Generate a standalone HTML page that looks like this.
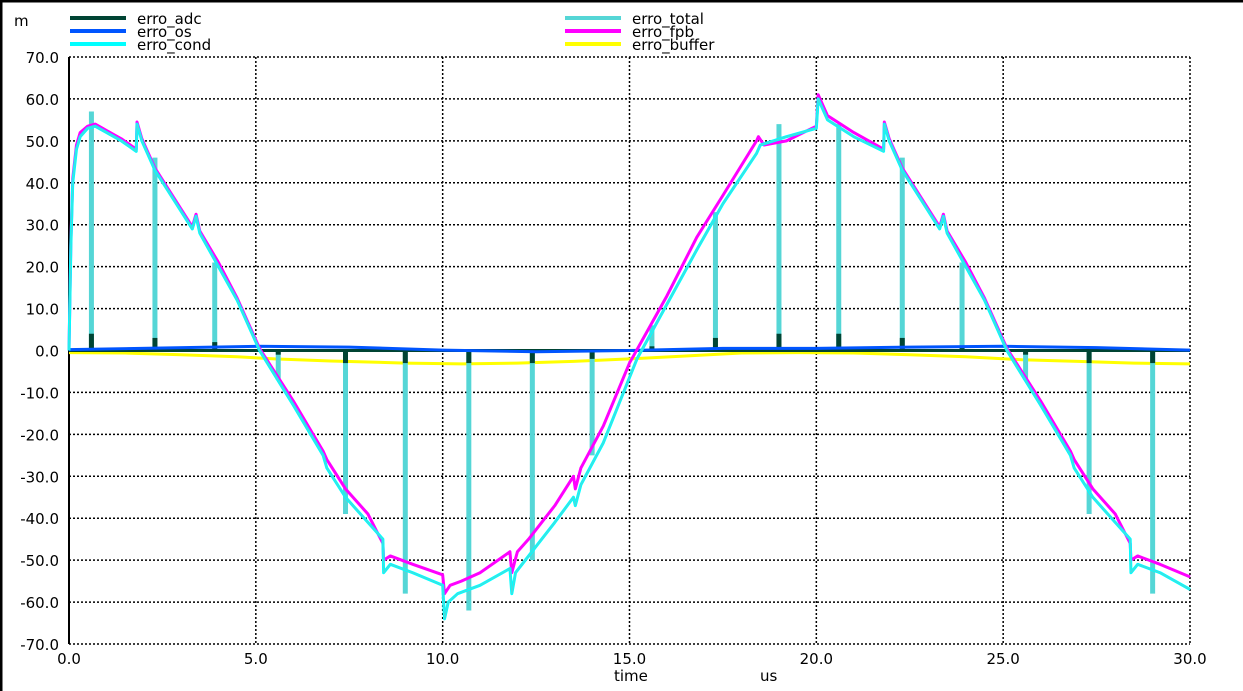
<!DOCTYPE html>
<html><head><meta charset="utf-8"><style>
html,body{margin:0;padding:0;background:#fff;}
svg{display:block;font-family:"DejaVu Sans","Liberation Sans",sans-serif;}
</style></head><body>
<svg id="chart" width="1243" height="691"></svg>
<script>
// ---- data ----
const yTicks = [70,60,50,40,30,20,10,0,-10,-20,-30,-40,-50,-60,-70];
const xTicks = [0,5,10,15,20,25,30];
const condT = [0,0.05,0.1,0.2,0.3,0.5,0.7,1.0,1.4,1.8,1.82,1.95,2.3,2.8,3.3,3.4,3.5,4.0,4.5,5.1,6.0,6.8,6.9,7.4,8.0,8.4,8.42,8.6,9.2,10.0,10.05,10.15,10.4,11.0,11.8,11.85,11.95,12.3,13.0,13.5,13.55,13.7,14.3,15.2,16.0,16.8,17.5,18.4,18.5,19.2,20.0,20.05,20.3,21.0,21.8,21.82,21.95,22.3,22.8,23.3,23.4,23.5,24.0,24.5,25.1,26.0,26.8,26.9,27.4,28.0,28.4,28.42,28.6,29.2,30.0];
const condV = [0,25,40,48,51,53,53.5,52,50,47.5,54,50,43,36,29,32,28,20,12,0,-13,-25,-28,-35,-41,-45,-53,-51,-53,-56,-64,-60,-58,-56,-52,-58,-53,-49,-41,-35,-37,-32,-22,-2,11,24,35,47,49,51,53,60,55,51,47.5,54,50,43,36,29,32,28,20,12,0,-13,-25,-28,-35,-41,-45,-53,-51,-53,-57];
const fpbT = [0,0.05,0.1,0.2,0.3,0.5,0.7,1.0,1.4,1.8,1.82,1.95,2.3,2.8,3.3,3.4,3.5,4.0,4.5,5.1,6.0,6.8,6.9,7.4,8.0,8.4,8.42,8.6,9.2,10.0,10.05,10.2,10.5,11.0,11.8,11.85,12.0,12.3,13.0,13.5,13.55,13.7,14.3,15.0,16.0,16.8,17.5,18.4,18.45,18.6,19.2,20.0,20.05,20.3,21.0,21.8,21.82,21.95,22.3,22.8,23.3,23.4,23.5,24.0,24.5,25.1,26.0,26.8,26.9,27.4,28.0,28.4,28.42,28.6,29.2,30.0];
const fpbV = [0,26,41,49,52,53.5,54,52.5,50.5,48,54.5,50.5,43.5,36.5,29.5,32.5,28.5,21,12.5,0.5,-12,-24,-26,-33,-39,-46,-50,-49,-51,-53.5,-58,-56,-55,-53,-48,-53,-48,-45,-37,-30,-33,-28,-18,-3,13,27,37,50,51,49,50,53.5,61,56,52,48,54.5,50.5,43.5,36.5,29.5,32.5,28.5,21,12.5,0.5,-12,-24,-26,-33,-39,-46,-50,-49,-51,-54];
const spikeT = [0.6,2.3,3.9,5.6,7.4,9.0,10.7,12.4,14.0,15.6,17.3,19.0,20.6,22.3,23.9,25.6,27.3,29.0];
const totalSpikeV = [57,46,21,-7,-39,-58,-62,-50,-25,6,33,54,54,46,21,-7,-39,-58];
const adcSpikeV = [4,3,2,-1,-3,-3,-3,-3,-2,1,3,4,4,3,1,-1,-3,-3];
const osT = [0,2.5,5,7.5,10,12.5,15,17.5,20,22.5,25,27.5,30];
const osV = [0.2,0.6,1,0.8,0.1,-0.3,0,0.5,0.5,0.8,1,0.7,0.1];
const bufT = [0,1.5,3,4.5,5.5,7,9,10.5,12,13.5,15,16.5,18,19.5,21,22.5,24,25.5,27,28.5,30];
const bufV = [-0.5,-0.6,-1,-1.5,-2,-2.5,-3,-3.2,-3,-2.6,-2,-1.3,-0.6,-0.5,-0.6,-1,-1.5,-2.2,-2.6,-3,-3.2];

// ---- scales ----
const X0=69,X1=1190,Y0=57,Y1=644;
const xs=t=>X0+(t/30)*(X1-X0);
const ys=v=>Y0+(70-v)/140*(Y1-Y0);
const NS='http://www.w3.org/2000/svg';
const svg=document.getElementById('chart');
function mk(tag,attrs,parent){const e=document.createElementNS(NS,tag);for(const k in attrs)e.setAttribute(k,attrs[k]);(parent||svg).appendChild(e);return e;}

const fr=mk('path',{d:'M1,691 V1 H1243',stroke:'#000','stroke-width':3,fill:'none'});



yTicks.forEach(v=>{
  const l=mk('line',{x1:X0,x2:X1,y1:ys(v),y2:ys(v),stroke:'#000','stroke-width':1.5,'stroke-dasharray':'2,2'});
  
  
  const t=mk('text',{x:59,y:ys(v)+6,'text-anchor':'end','font-size':15,fill:'#000'});
  t.textContent=v.toFixed(1);
  
  
});
xTicks.forEach(v=>{
  const l=mk('line',{x1:xs(v),x2:xs(v),y1:Y0,y2:Y1,stroke:'#000','stroke-width':1.5,'stroke-dasharray':'2,2'});
  
  
  const t=mk('text',{x:xs(v),y:664,'text-anchor':'middle','font-size':15,fill:'#000'});
  t.textContent=v.toFixed(1);
  
  
});
const ax=mk('line',{x1:X0,x2:X0,y1:Y0,y2:Y1,stroke:'#000','stroke-width':2});



function poly(T,V,color,w,name){
  const p=mk('polyline',{points:T.map((t,i)=>xs(t)+','+ys(V[i])).join(' '),fill:'none',stroke:color,'stroke-width':w,'stroke-linejoin':'round'});
  
  
}
poly(bufT,bufV,'#ffff00',3,'series-erro-buffer');
spikeT.forEach((t,i)=>{
  const r=mk('line',{x1:xs(t),x2:xs(t),y1:ys(0),y2:ys(totalSpikeV[i]),stroke:'#55d6d6','stroke-width':5});
  
  
});
poly([0,30],[0,0],'#004433',3,'series-erro-adc');
spikeT.forEach((t,i)=>{
  const r=mk('line',{x1:xs(t),x2:xs(t),y1:ys(0),y2:ys(adcSpikeV[i]),stroke:'#004433','stroke-width':5});
  
  
});
poly(osT,osV,'#0055ff',3,'series-erro-os');
poly(fpbT,fpbV,'#ff00ff',3,'series-erro-fpb');
poly(condT,condV,'#00ffff',3,'series-erro-cond');
poly(condT,condV.map(v=>v),'#55d6d6',1,'series-erro-total');

const leg=[[70,18,'#004433','erro_adc'],[70,31,'#0055ff','erro_os'],[70,44,'#00ffff','erro_cond'],
           [565,18,'#55d6d6','erro_total'],[565,31,'#ff00ff','erro_fpb'],[565,44,'#ffff00','erro_buffer']];
leg.forEach(([x,y,c,n])=>{
  const l=mk('line',{x1:x,x2:x+56,y1:y,y2:y,stroke:c,'stroke-width':4});
  
  
  const t=mk('text',{x:x+67,y:y+6,'font-size':15,fill:'#000'});
  t.textContent=n;
  
  
});
const m=mk('text',{x:14,y:26,'font-size':15,fill:'#000'});m.textContent='m';


const tl=mk('text',{x:614,y:681,'font-size':15,fill:'#000'});tl.textContent='time';


const ul=mk('text',{x:760,y:681,'font-size':15,fill:'#000'});ul.textContent='us';


</script>
</body></html>
